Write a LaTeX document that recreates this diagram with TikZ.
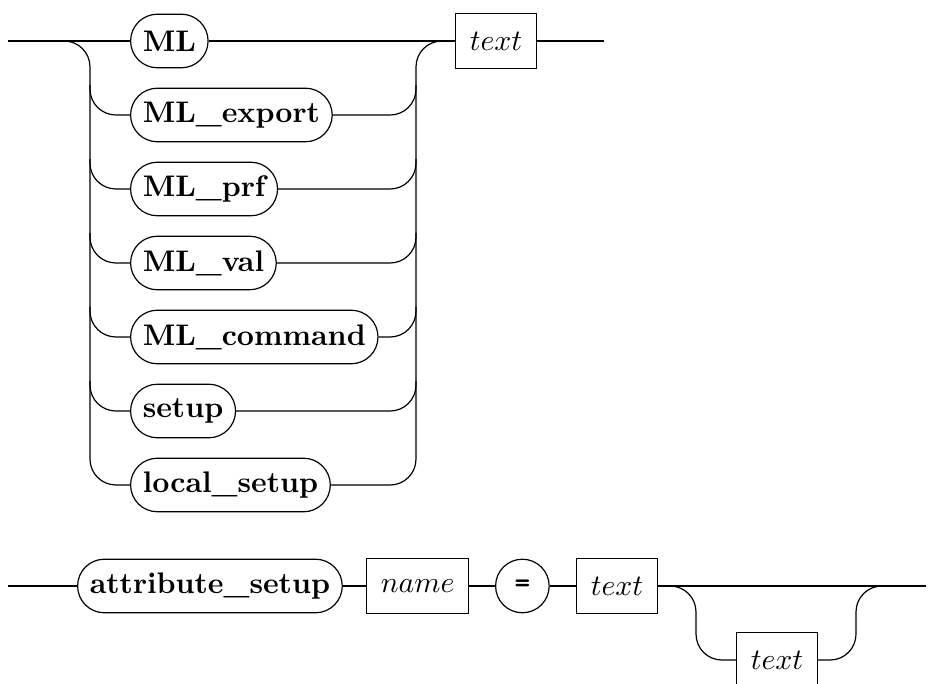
\documentclass[tikz,border=0pt]{standalone}
\usetikzlibrary{calc}
\begin{document}
\begin{tikzpicture}[x=0.336pt,y=-0.336pt,
  kw/.style={draw,rounded corners=9pt,minimum height=18pt,inner xsep=4.1pt,inner ysep=0pt,font=\bfseries},
  nt/.style={draw,minimum height=18.5pt,inner xsep=4.8pt,inner ysep=0pt},
  sym/.style={draw,circle,minimum size=18pt,inner sep=0pt,font=\ttfamily\bfseries},
  rail/.style={rounded corners=8.7pt}]
\useasboundingbox (0,0) rectangle (928,684);
%Premier diagramme
\coordinate (in1) at (8,41);
\coordinate (splL) at (63,41);
\coordinate (railL) at (90,41);
\coordinate (railR) at (416,41);
\coordinate (joinR) at (443,41);
\node[kw,anchor=west] (ML) at (130,41) {ML};
\node[kw,anchor=west] (MLexp) at (130,115) {ML\_export};
\node[kw,anchor=west] (MLprf) at (130,189) {ML\_prf};
\node[kw,anchor=west] (MLval) at (130,263) {ML\_val};
\node[kw,anchor=west] (MLcmd) at (130,337) {ML\_command};
\node[kw,anchor=west] (setup) at (130,411) {setup};
\node[kw,anchor=west] (local) at (130,485) {local\_setup};
\node[nt,anchor=west] (txt1) at (455,41) {$text$};
\coordinate (out1) at (604,41);
%Arêtes du premier diagramme
\draw (in1) -- (ML.west);
\draw (ML.east) -- (txt1.west);
\draw (txt1.east) -- (out1);
\draw[rail] (splL) -| (railL |- local.west) -- (local.west);
\draw[rail] (local.east) -| (railR) -- (joinR);
\foreach \n in {MLexp,MLprf,MLval,MLcmd,setup}{
  \draw[rail] ($(railL |- \n.west)+(0,-30)$) |- (\n.west);
  \draw[rail] (\n.east) -| ($(railR |- \n.east)+(0,-30)$);
}
%Second diagramme
\coordinate (in2) at (8,586);
\node[kw,anchor=west] (attr) at (77,586) {attribute\_setup};
\node[nt,anchor=west] (name) at (366,586) {$name$};
\node[sym,anchor=west] (eq) at (495,586) {=};
\node[nt,anchor=west] (txt2) at (576,586) {$text$};
\node[nt,anchor=west] (txt3) at (736,660) {$text$};
\coordinate (out2) at (926,586);
\coordinate (splB) at (668,586);
\coordinate (bendB1) at (696,660);
\coordinate (bendB2) at (856,586);
\coordinate (joinB) at (883,586);
%Arêtes du second diagramme
\draw (in2) -- (attr.west);
\draw (attr.east) -- (name.west);
\draw (name.east) -- (eq.west);
\draw (eq.east) -- (txt2.west);
\draw (txt2.east) -- (out2);
\draw[rail] (splB) -| (bendB1) -- (txt3.west);
\draw[rail] (txt3.east) -| (bendB2) -- (joinB);
\end{tikzpicture}
\end{document}
